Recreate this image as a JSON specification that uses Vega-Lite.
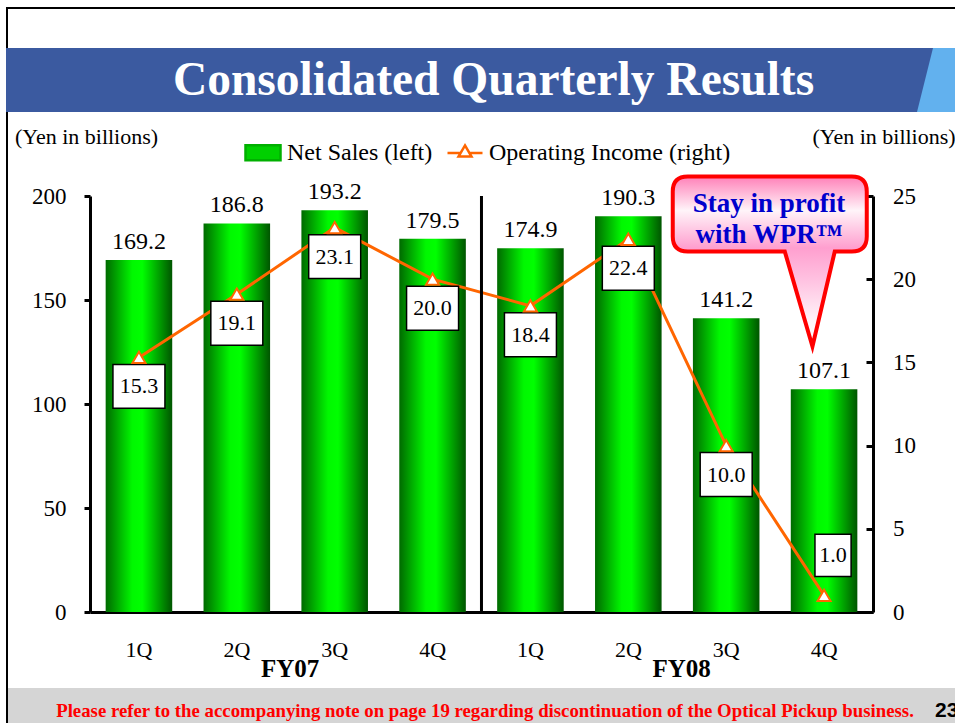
{
  "$schema": "https://vega.github.io/schema/vega-lite/v6.json",
  "background": "white",
  "padding": {"left": 6, "top": 7, "right": 0, "bottom": 0},
  "config": {"view": {"stroke": null}, "font": "Liberation Serif"},
  "bounds": "flush",
  "spacing": 0,
  "columns": 3,
  "concat": [
    {"width": 2, "height": 2, "view": {"fill": "#000000", "stroke": null}, "data": {"values": [{}]}, "mark": {"type": "rect", "color": "#000000"}, "encoding": {}},
    {"width": 82, "height": 2, "view": {"fill": "#000000", "stroke": null}, "data": {"values": [{}]}, "mark": {"type": "rect", "color": "#000000"}, "encoding": {}},
    {"width": 865, "height": 2, "view": {"fill": "#000000", "stroke": null}, "data": {"values": [{}]}, "mark": {"type": "rect", "color": "#000000"}, "encoding": {}},

    {"width": 2, "height": 39, "view": {"fill": "#000000", "stroke": null}, "data": {"values": [{}]}, "mark": {"type": "rect", "color": "#000000"}, "encoding": {}},
    {"width": 82, "height": 39, "data": {"values": []}, "mark": "point", "encoding": {}},
    {"width": 865, "height": 39, "data": {"values": []}, "mark": "point", "encoding": {}},

    {"width": 2, "height": 64, "view": {"fill": "#3b5aa0", "stroke": null}, "data": {"values": [{}]}, "mark": {"type": "rect", "color": "#3b5aa0"}, "encoding": {}},
    {"width": 82, "height": 64, "view": {"fill": "#3b5aa0", "stroke": null}, "data": {"values": [{}]}, "mark": {"type": "rect", "color": "#3b5aa0"}, "encoding": {}},
    {
      "width": 865, "height": 64,
      "view": {"fill": "#62b1ee", "stroke": null},
      "layer": [
        {
          "data": {"values": [{"bx": 0, "top": 1, "bottom": 0}, {"bx": 0.9561, "top": 1, "bottom": 0}, {"bx": 0.9746, "top": 1, "bottom": 1}]},
          "mark": {"type": "area", "color": "#3b5aa0", "opacity": 1},
          "encoding": {
            "x": {"field": "bx", "type": "quantitative", "scale": {"domain": [0, 1], "nice": false, "zero": false}, "axis": null},
            "y": {"field": "top", "type": "quantitative", "scale": {"domain": [0, 1], "nice": false}, "axis": null},
            "y2": {"field": "bottom"}
          }
        },
        {
          "data": {"values": [{"title": "Consolidated Quarterly Results"}]},
          "mark": {"type": "text", "font": "Liberation Serif", "fontWeight": "bold", "fontSize": 47.5, "color": "white", "align": "center", "baseline": "middle", "dx": -29, "dy": 1},
          "encoding": {"text": {"field": "title"}}
        }
      ]
    },

    {"width": 2, "height": 84, "view": {"fill": "#000000", "stroke": null}, "data": {"values": [{}]}, "mark": {"type": "rect", "color": "#000000"}, "encoding": {}},
    {"width": 82, "height": 84, "data": {"values": []}, "mark": "point", "encoding": {}},
    {"width": 865, "height": 84, "data": {"values": []}, "mark": "point", "encoding": {}},

    {"width": 2, "height": 416, "view": {"fill": "#000000", "stroke": null}, "data": {"values": [{}]}, "mark": {"type": "rect", "color": "#000000"}, "encoding": {}},
    {"width": 82, "height": 416, "data": {"values": []}, "mark": "point", "encoding": {}},
    {
      "width": 783, "height": 416,
      "data": {"values": [
        {"q": "FY07 1Q", "fy": "FY07", "sales": 169.2, "oi": 15.3},
        {"q": "FY07 2Q", "fy": "FY07", "sales": 186.8, "oi": 19.1},
        {"q": "FY07 3Q", "fy": "FY07", "sales": 193.2, "oi": 23.1},
        {"q": "FY07 4Q", "fy": "FY07", "sales": 179.5, "oi": 20.0},
        {"q": "FY08 1Q", "fy": "FY08", "sales": 174.9, "oi": 18.4},
        {"q": "FY08 2Q", "fy": "FY08", "sales": 190.3, "oi": 22.4},
        {"q": "FY08 3Q", "fy": "FY08", "sales": 141.2, "oi": 10.0},
        {"q": "FY08 4Q", "fy": "FY08", "sales": 107.1, "oi": 1.0}
      ]},
      "encoding": {
        "x": {
          "field": "q", "type": "nominal",
          "scale": {"paddingInner": 0.32, "paddingOuter": 0.16},
          "axis": {"title": null, "labelExpr": "split(datum.label, ' ')[1]", "ticks": false, "tickSize": 0, "labelPadding": 27, "domainColor": "black", "domainWidth": 3, "labelFont": "Liberation Serif", "labelFontSize": 22, "labelColor": "black", "labelAngle": 0, "grid": false}
        }
      },
      "layer": [
        {
          "encoding": {
            "y": {
              "field": "sales", "type": "quantitative",
              "scale": {"domain": [0, 200], "nice": false},
              "axis": {"title": "(Yen in billions)", "titleAngle": 0, "titleX": -4, "titleY": -53, "titleAlign": "center", "titleBaseline": "alphabetic", "titleFont": "Liberation Serif", "titleFontSize": 22, "titleFontWeight": "normal", "titleColor": "black", "values": [0, 50, 100, 150, 200], "tickSize": 6, "tickWidth": 3, "tickColor": "black", "domainColor": "black", "domainWidth": 3, "labelFont": "Liberation Serif", "labelFontSize": 23, "labelColor": "black", "labelPadding": 18, "grid": false, "labelFlush": false}
            }
          },
          "layer": [
            {
              "mark": {"type": "bar", "fill": {"gradient": "linear", "x1": 0, "y1": 0, "x2": 1, "y2": 0, "stops": [{"offset": 0, "color": "#006a00"}, {"offset": 0.4, "color": "#00f800"}, {"offset": 0.55, "color": "#00ff00"}, {"offset": 1, "color": "#005500"}]}}
            },
            {
              "mark": {"type": "text", "font": "Liberation Serif", "fontSize": 24, "color": "black", "align": "center", "baseline": "alphabetic", "dy": -11},
              "encoding": {"text": {"field": "sales", "format": ".1f"}}
            },
            {
              "transform": [{"filter": "datum.q == 'FY07 2Q' || datum.q == 'FY08 2Q'"}],
              "mark": {"type": "text", "font": "Liberation Serif", "fontWeight": "bold", "fontSize": 25, "color": "black", "align": "center", "baseline": "alphabetic", "dy": 65},
              "encoding": {
                "x": {"field": "q", "type": "nominal", "bandPosition": 1.3},
                "y": {"datum": 0, "type": "quantitative"},
                "text": {"field": "fy"}
              }
            }
          ]
        },
        {
          "encoding": {
            "y": {
              "field": "oi", "type": "quantitative",
              "scale": {"domain": [0, 25], "nice": false},
              "axis": {"orient": "right", "title": "(Yen in billions)", "titleAngle": 0, "titleX": 10.5, "titleY": -53, "titleAlign": "center", "titleBaseline": "alphabetic", "titleFont": "Liberation Serif", "titleFontSize": 22, "titleFontWeight": "normal", "titleColor": "black", "values": [0, 5, 10, 15, 20, 25], "tickSize": -7, "tickWidth": 3, "tickColor": "black", "domainColor": "black", "domainWidth": 3, "labelFont": "Liberation Serif", "labelFontSize": 23, "labelColor": "black", "labelPadding": 26.5, "grid": false, "labelFlush": false}
            }
          },
          "layer": [
            {"mark": {"type": "line", "color": "#ff6600", "strokeWidth": 3}},
            {
              "mark": {"type": "point", "filled": true, "fill": "white", "stroke": "black", "strokeWidth": 1.5, "size": 2704, "opacity": 1},
              "encoding": {"shape": {"condition": {"test": "datum.oi < 3", "value": "M-0.35,-2.35H1.04V-0.73H-0.35Z"}, "value": "M-1,0.27H1V1.96H-1Z"}}
            },
            {"mark": {"type": "point", "shape": "triangle-up", "size": 170, "filled": true, "fill": "white", "stroke": "#ff6600", "strokeWidth": 2, "opacity": 1}},
            {
              "mark": {"type": "text", "font": "Liberation Serif", "fontSize": 22, "color": "black", "align": "center", "baseline": "middle", "dy": {"expr": "datum.oi < 3 ? -40 : 29"}, "dx": {"expr": "datum.oi < 3 ? 9 : 0"}},
              "encoding": {"text": {"field": "oi", "format": ".1f"}}
            },
            {
              "transform": [{"filter": "datum.q == 'FY08 4Q'"}],
              "layer": [
                {
                  "mark": {"type": "point", "shape": "M-1.363,-4.189H0.277Q0.427,-4.189 0.427,-4.039V-3.589Q0.427,-3.439 0.277,-3.439H0.107L-0.116,-2.489L-0.393,-3.439H-1.363Q-1.513,-3.439 -1.513,-3.589V-4.039Q-1.513,-4.189 -1.363,-4.189Z", "size": 40000, "filled": true, "opacity": 1, "stroke": "#ff0000", "strokeWidth": 4, "fill": {"gradient": "linear", "x1": 0, "y1": 0, "x2": 0, "y2": 1, "stops": [{"offset": 0, "color": "#ff80b8"}, {"offset": 0.2, "color": "#fff4f9"}, {"offset": 0.42, "color": "#ff9fcf"}, {"offset": 0.6, "color": "#ffc0e0"}, {"offset": 0.85, "color": "#fff4f9"}, {"offset": 1, "color": "#ffffff"}]}}
                },
                {
                  "mark": {"type": "text", "text": "Stay in profit", "font": "Liberation Serif", "fontWeight": "bold", "fontSize": 27, "color": "#0000cc", "align": "center", "baseline": "alphabetic", "dx": -55, "dy": -383}
                },
                {
                  "mark": {"type": "text", "text": "with WPR™", "font": "Liberation Serif", "fontWeight": "bold", "fontSize": 27, "color": "#0000cc", "align": "center", "baseline": "alphabetic", "dx": -55, "dy": -352}
                }
              ]
            }
          ]
        },
        {
          "transform": [{"filter": "datum.q == 'FY07 4Q'"}],
          "mark": {"type": "rule", "color": "black", "strokeWidth": 3},
          "encoding": {
            "x": {"field": "q", "type": "nominal", "bandPosition": 1.235}
          }
        },
        {
          "data": {"values": []},
          "mark": {"type": "point", "filled": true, "opacity": 1},
          "encoding": {
            "fill": {"field": "series", "type": "nominal", "scale": {"domain": ["Net Sales (left)", "Operating Income (right)"], "range": ["#00d000", "#ffffff"]}, "legend": {"title": null, "orient": "none", "legendX": 238, "legendY": 126.5, "direction": "horizontal", "labelFont": "Liberation Serif", "labelFontSize": 24, "labelColor": "black", "symbolSize": 1225, "symbolStrokeWidth": 2.5, "labelOffset": 5, "columnPadding": 9, "labelLimit": 400, "padding": 0, "encoding": {"symbols": {"update": {"fill": [{"test": "datum.value === 'Net Sales (left)'", "value": {"gradient": "linear", "x1": 0, "y1": 0, "x2": 1, "y2": 0, "stops": [{"offset": 0, "color": "#006a00"}, {"offset": 0.45, "color": "#00ff00"}, {"offset": 1, "color": "#005500"}]}}, {"value": "#ffffff"}]}}}}},
            "stroke": {"field": "series", "type": "nominal", "scale": {"domain": ["Net Sales (left)", "Operating Income (right)"], "range": ["#00b000", "#ff6600"]}, "legend": {"title": null, "orient": "none", "legendX": 238, "legendY": 126.5, "direction": "horizontal", "labelFont": "Liberation Serif", "labelFontSize": 24, "labelColor": "black", "symbolSize": 1225, "symbolStrokeWidth": 2.5, "labelOffset": 5, "columnPadding": 9, "labelLimit": 400, "padding": 0}},
            "shape": {"field": "series", "type": "nominal", "scale": {"domain": ["Net Sales (left)", "Operating Income (right)"], "range": ["M-1,-0.43H1V0.43H-1Z", "M-1,0H-0.25M0.25,0H1M0,-0.43L0.37,0.2L-0.37,0.2Z"]}, "legend": {"title": null, "orient": "none", "legendX": 238, "legendY": 126.5, "direction": "horizontal", "labelFont": "Liberation Serif", "labelFontSize": 24, "labelColor": "black", "symbolSize": 1225, "symbolStrokeWidth": 2.5, "labelOffset": 5, "columnPadding": 9, "labelLimit": 400, "padding": 0}}
          }
        }
      ],
      "resolve": {"scale": {"y": "independent"}}
    },

    {"width": 2, "height": 76, "view": {"fill": "#000000", "stroke": null}, "data": {"values": [{}]}, "mark": {"type": "rect", "color": "#000000"}, "encoding": {}},
    {"width": 82, "height": 76, "data": {"values": []}, "mark": "point", "encoding": {}},
    {"width": 865, "height": 76, "data": {"values": []}, "mark": "point", "encoding": {}},

    {"width": 2, "height": 35, "view": {"fill": "#000000", "stroke": null}, "data": {"values": [{}]}, "mark": {"type": "rect", "color": "#000000"}, "encoding": {}},
    {"width": 82, "height": 35, "view": {"fill": "#d5d5d5", "stroke": null}, "data": {"values": [{}]}, "mark": {"type": "rect", "color": "#d5d5d5"}, "encoding": {}},
    {
      "width": 865, "height": 35,
      "view": {"fill": "#d5d5d5", "stroke": null},
      "data": {"values": [{"note": "Please refer to the accompanying note on page 19 regarding discontinuation of the Optical Pickup business.", "page": "23"}]},
      "layer": [
        {
          "mark": {"type": "text", "font": "Liberation Serif", "fontWeight": "bold", "fontSize": 18.8, "color": "#ff0000", "align": "center", "baseline": "alphabetic", "dx": -37.5, "dy": 11},
          "encoding": {"text": {"field": "note"}}
        },
        {
          "mark": {"type": "text", "font": "Liberation Sans", "fontWeight": "bold", "fontSize": 21, "color": "black", "align": "left", "baseline": "alphabetic", "dx": 412.5, "dy": 11.5},
          "encoding": {"text": {"field": "page"}}
        }
      ]
    }
  ]
}
